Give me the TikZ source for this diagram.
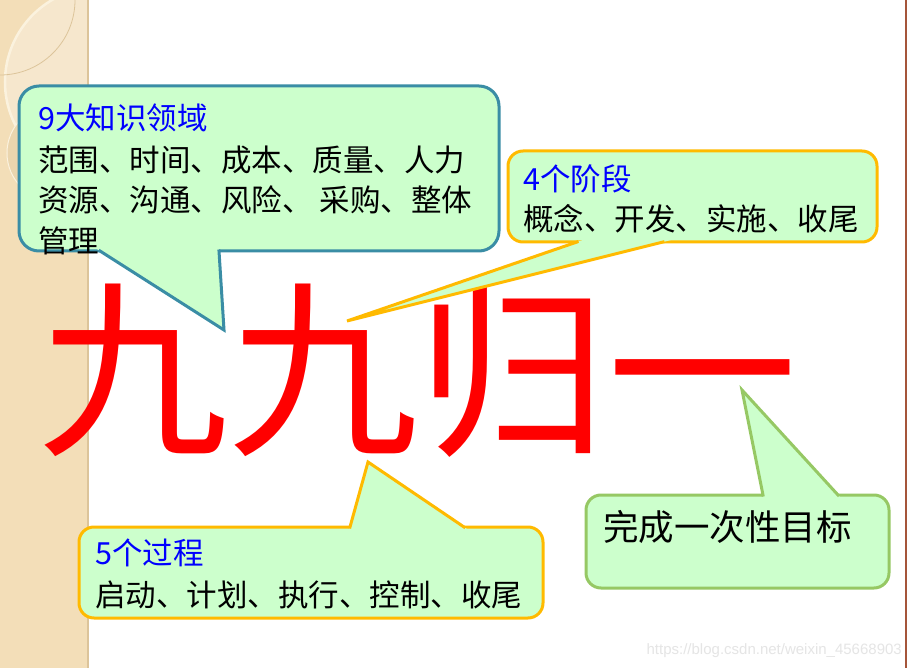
\documentclass[tikz,border=0pt]{standalone}
\usepackage{fontspec}
\setmainfont{Noto Sans CJK SC}
\newfontfamily\urlfont{Liberation Sans}
\usetikzlibrary{calc}

\definecolor{callfill}{HTML}{CCFFCC}
\definecolor{tealline}{HTML}{3A8DA5}
\definecolor{goldline}{HTML}{FFBA00}
\definecolor{leafline}{HTML}{96C864}
\definecolor{stripbg}{HTML}{F3DEB8}
\definecolor{stripedge}{HTML}{DCC49A}
\definecolor{stripshade}{HTML}{EAD5AE}
\definecolor{stripline}{HTML}{FBF2DE}
\definecolor{edgebrown}{HTML}{A5553A}
\definecolor{titleblue}{HTML}{0000FF}

\begin{document}
\begin{tikzpicture}[
x=1pt, y=-1pt,
   box/.style = {fill=callfill, line width=3pt, rounded corners=#1},
   box/.default = 15pt,
  side/.style = {line width=3pt, line join=miter},
   ttl/.style = {anchor=west, inner sep=0pt, text=titleblue, font=\fontsize{30.5}{40.5}\selectfont},
  body/.style = {anchor=west, inner sep=0pt, align=left, font=\fontsize{30.5}{40.5}\selectfont},
   big/.style = {inner sep=0pt, text=red, font=\fontsize{190}{190}\selectfont}
                    ]
\useasboundingbox (0,0) rectangle (908,668);
\fill[white] (0,0) rectangle (908,668);

% left strip
\fill[stripbg] (0,0) rectangle (89,668);
\begin{scope}
\clip (0,0) rectangle (89,668);
\fill[white, opacity=.3] (100,82) circle[radius=95];
\draw[stripline, line width=2.5pt] (100,82) circle[radius=95];
\draw[stripedge, line width=.8pt] (0,0) circle[radius=75];
\fill[stripshade] (55,153) circle[radius=48];
\draw[stripline, line width=1pt] (55,153) circle[radius=48];
\end{scope}
\draw[stripedge, line width=2pt] (88,0) -- (88,668);
\draw[edgebrown, line width=1.5pt] (906,0) -- (906,668);

% big text
\node[big] (title) at (418,370) {九九归一};

% callout: 9 areas
\filldraw[box=20pt, draw=tealline] (19,86) rectangle (499,251);
\coordinate (k1) at (100,251);
\coordinate (k2) at (219,251);
\coordinate (ktip) at (224,330);
\fill[callfill] ($(k1)!-8pt!(ktip)$) -- (ktip) -- ($(k2)!-8pt!(ktip)$) -- cycle;
\draw[side, tealline] ($(k1)!-1.5pt!(ktip)$) -- (ktip) -- ($(k2)!-1.5pt!(ktip)$);

% callout: 4 stages
\filldraw[box, draw=goldline] (508,151) rectangle (877,242);
\coordinate (s1) at (577,242);
\coordinate (s2) at (663,242);
\coordinate (stip) at (347,321);
\fill[callfill] ($(s1)!-8pt!(stip)$) -- (stip) -- ($(s2)!-8pt!(stip)$) -- cycle;
\draw[side, goldline] ($(s1)!-1.5pt!(stip)$) -- (stip) -- ($(s2)!-1.5pt!(stip)$);

% callout: 5 processes
\filldraw[box, draw=goldline] (79,527) rectangle (543,618);
\coordinate (p1) at (350,527);
\coordinate (p2) at (464,527);
\coordinate (ptip) at (368,462);
\fill[callfill] ($(p1)!-8pt!(ptip)$) -- (ptip) -- ($(p2)!-8pt!(ptip)$) -- cycle;
\draw[side, goldline] ($(p1)!-1.5pt!(ptip)$) -- (ptip) -- ($(p2)!-1.5pt!(ptip)$);

% callout: one goal
\filldraw[box, draw=leafline] (586,495) rectangle (889,588);
\coordinate (g1) at (763,495);
\coordinate (g2) at (838,495);
\coordinate (gtip) at (742,390);
\fill[callfill] ($(g1)!-8pt!(gtip)$) -- (gtip) -- ($(g2)!-8pt!(gtip)$) -- cycle;
\draw[side, leafline] ($(g1)!-1.5pt!(gtip)$) -- (gtip) -- ($(g2)!-1.5pt!(gtip)$);

% texts
\node[ttl] (areas) at (38,118) {9大知识领域};
\node[body] (arealist) at (38,200) {范围、时间、成本、质量、人力\\资源、沟通、风险、 采购、整体\\管理};
\node[ttl] (stages) at (523,179) {4个阶段};
\node[body] (stagelist) at (523,219) {概念、开发、实施、收尾};
\node[ttl] (procs) at (95,553) {5个过程};
\node[body] (proclist) at (95,595) {启动、计划、执行、控制、收尾};
\node[body, font=\fontsize{35.5}{40}\selectfont] (goal) at (603,527) {完成一次性目标};

\node[anchor=east, inner sep=0pt, text=black!10, font=\urlfont\fontsize{15}{15}\selectfont] (mark) at (902,651) {https://blog.csdn.net/weixin\_45668903};
\end{tikzpicture}
\end{document}
